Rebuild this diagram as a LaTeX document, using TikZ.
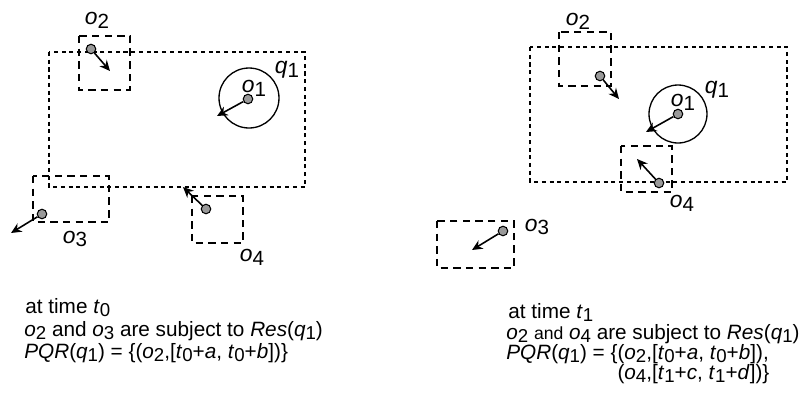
\documentclass[tikz,border=0pt]{standalone}
\usepackage{graphicx}
\usepackage{fontspec}
\setmainfont{Liberation Sans}
\usetikzlibrary{arrows.meta}

% italic variable with lowered upright index
\newcommand{\vsub}[2]{\textit{#1}\raisebox{-0.32ex}{\scalebox{0.9}{#2}}}

\begin{document}
\begin{tikzpicture}[
        x=0.02cm, y=-0.02cm,
        >={Stealth[length=6pt, width=5.5pt]},
        region/.style={line width=0.75pt, dash pattern=on 2.3pt off 2.1pt},
        objbox/.style={line width=0.75pt, dash pattern=on 4.2pt off 3pt},
        reach/.style={draw, circle, line width=0.75pt, minimum size=1.2cm, inner sep=0pt},
        dot/.style={circle, draw, fill=black!40, line width=0.6pt, minimum size=0.19cm, inner sep=0pt},
        move/.style={->, line width=0.9pt},
        lbl/.style={inner sep=0pt, font=\fontsize{13}{13}\selectfont},
        txt/.style={inner sep=0pt, anchor=base west, text height=8.3pt, text depth=2.2pt, font=\fontsize{11.8}{12}\selectfont}
    ]
        \useasboundingbox (0,0) rectangle (799,393);

        % ---- time t0 ----
        % query region q1
        \draw[region] (49,52) rectangle (305,187);
        \node[lbl] (q1a) at (287,70) {\vsub{q}{1}};

        % o1 with its range
        \node[reach] (r1a) at (249,98) {};
        \node[dot] (o1a) at (248,99) {};
        \coordinate (m1a) at (217,116);
        \draw[move] (o1a) -- (m1a);
        \node[lbl] (l1a) at (254,88) {\vsub{o}{1}};

        % o2
        \draw[objbox] (79,36) rectangle (130,90);
        \node[dot] (o2a) at (91,49) {};
        \coordinate (m2a) at (110,71);
        \draw[move] (o2a) -- (m2a);
        \node[lbl] (l2a) at (97,20) {\vsub{o}{2}};

        % o3
        \draw[objbox] (33,176) rectangle (109,222);
        \node[dot] (o3a) at (42,214) {};
        \coordinate (m3a) at (11,233);
        \draw[move] (o3a) -- (m3a);
        \node[lbl] (l3a) at (75,239) {\vsub{o}{3}};

        % o4
        \draw[objbox] (192,196) rectangle (243,243);
        \node[dot] (o4a) at (206,209) {};
        \coordinate (m4a) at (183,187);
        \draw[move] (o4a) -- (m4a);
        \node[lbl] (l4a) at (252,257) {\vsub{o}{4}};

        % ---- time t1 ----
        % query region q1
        \draw[region] (530,47) rectangle (787,182);
        \node[lbl] (q1b) at (717,90) {\vsub{q}{1}};

        % o1 with its range
        \node[reach, minimum size=1.16cm] (r1b) at (678,114) {};
        \node[dot] (o1b) at (678,114) {};
        \coordinate (m1b) at (646,132);
        \draw[move] (o1b) -- (m1b);
        \node[lbl] (l1b) at (683,102) {\vsub{o}{1}};

        % o2
        \draw[objbox] (559,32) rectangle (611,86);
        \node[dot] (o2b) at (600,76) {};
        \coordinate (m2b) at (619,99);
        \draw[move] (o2b) -- (m2b);
        \node[lbl] (l2b) at (578,21) {\vsub{o}{2}};

        % o3
        \draw[objbox] (437,221) rectangle (514,268);
        \node[dot] (o3b) at (503,231) {};
        \coordinate (m3b) at (472,250);
        \draw[move] (o3b) -- (m3b);
        \node[lbl] (l3b) at (537,227) {\vsub{o}{3}};

        % o4
        \draw[objbox] (621,146) rectangle (672,192);
        \node[dot] (o4b) at (659,183) {};
        \coordinate (m4b) at (637,159);
        \draw[move] (o4b) -- (m4b);
        \node[lbl] (l4b) at (682,203) {\vsub{o}{4}};

        % captions
        \node[txt] (c0a) at (25,313) {at time \vsub{t}{0}};
        \node[txt] (c0b) at (24,336) {\vsub{o}{2} and \vsub{o}{3} are subject to \textit{Res}(\vsub{q}{1})};
        \node[txt] (c0c) at (24,358) {\textit{PQR}(\vsub{q}{1}) = \{(\vsub{o}{2},[\vsub{t}{0}+\textit{a}, \vsub{t}{0}+\textit{b}])\}};

        \node[txt] (c1a) at (508,318) {at time \vsub{t}{1}};
        \node[txt] (c1b) at (506,339) {\vsub{o}{2} {\fontsize{10}{12}\selectfont and} \vsub{o}{4} are subject to \textit{Res}(\vsub{q}{1})};
        \node[txt] (c1c) at (506,359) {\textit{PQR}(\vsub{q}{1}) = \{(\vsub{o}{2},[\vsub{t}{0}+\textit{a}, \vsub{t}{0}+\textit{b}]),};
        \node[txt] (c1d) at (506,379) {\phantom{\textit{PQR}(\vsub{q}{1}) = \{}(\vsub{o}{4},[\vsub{t}{1}+\textit{c}, \vsub{t}{1}+\textit{d}])\}};

    \end{tikzpicture}
\end{document}
